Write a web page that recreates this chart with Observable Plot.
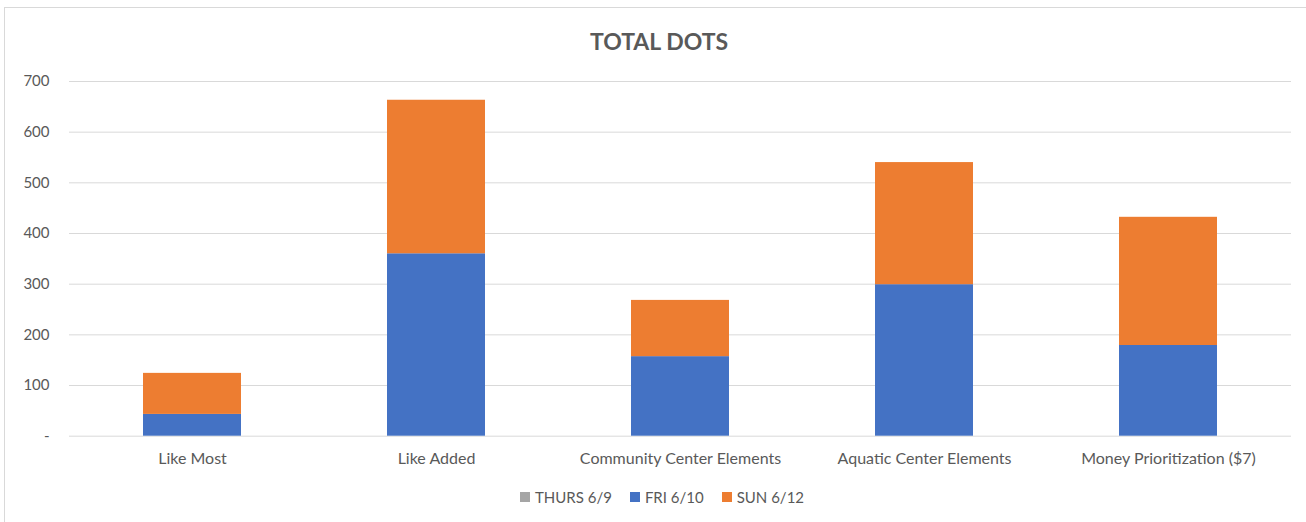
<!DOCTYPE html>
<html><head><meta charset="utf-8">
<script src="https://cdn.jsdelivr.net/npm/d3@7"></script>
<script src="https://cdn.jsdelivr.net/npm/@observablehq/plot@0.6"></script>
<style>
body{margin:0;background:#fff;font-family:Lato, sans-serif;width:1306px;height:522px;overflow:hidden;position:relative;}
#frame{position:absolute;left:4px;top:7px;width:1310px;height:530px;border-top:1px solid #d9d9d9;border-left:1px solid #d9d9d9;box-sizing:border-box;}
#title{position:absolute;left:0;width:1318px;top:27px;text-align:center;font-weight:bold;font-size:23px;color:#595959;line-height:28px;}
#chart{position:absolute;left:0;top:65px;}
#legend{position:absolute;top:487px;left:0;width:1324px;display:flex;justify-content:center;font-size:15px;color:#595959;line-height:20px;}
.item{display:flex;align-items:center;margin:0 9px;}
.sw{width:10px;height:10px;margin-right:5px;}
</style>
</head><body>
<div id="frame"></div>
<div id="title">TOTAL DOTS</div>
<div id="chart"></div>
<div id="legend"></div>
<script>
const categories = ["Like Most","Like Added","Community Center Elements","Aquatic Center Elements","Money Prioritization ($7)"];
const series = ["THURS 6/9","FRI 6/10","SUN 6/12"];
const colors = ["#a5a5a5","#4472c4","#ed7d31"];
const thurs = [0,0,0,0,0];
const fri = [43,360,157,299,179];
const sun = [81,303,111,241,253];
const yTicks = [0,100,200,300,400,500,600,700];

const data = [];
categories.forEach((c,i)=>{
  data.push({category:c, series:series[0], value:thurs[i]});
  data.push({category:c, series:series[1], value:fri[i]});
  data.push({category:c, series:series[2], value:sun[i]});
});

const chart = Plot.plot({
  width:1306, height:410,
  marginLeft:69, marginRight:15, marginTop:16, marginBottom:39.3,
  style:{fontFamily:"Lato, sans-serif", fontSize:"15px", color:"#595959", background:"transparent"},
  x:{domain:categories, paddingInner:0.6, paddingOuter:0.3},
  y:{domain:[0,700]},
  color:{domain:series, range:colors},
  marks:[
    Plot.gridY(yTicks,{stroke:"#d9d9d9", strokeOpacity:1, strokeWidth:1}),
    Plot.barY(data,{x:"category", y:"value", fill:"series", order:series}),
    Plot.axisY({ticks:yTicks, tickSize:0, tickPadding:20, label:null, tickFormat:d=>d===0?"-":d3.format(",")(d), fill:"#595959"}),
    Plot.axisX({tickSize:0, tickPadding:16, label:null, fill:"#595959", fontSize:16})
  ]
});
document.getElementById("chart").appendChild(chart);

const lg = document.getElementById("legend");
series.forEach((s,i)=>{
  const it = document.createElement("div"); it.className="item";
  const sw = document.createElement("span"); sw.className="sw"; sw.style.background=colors[i];
  const tx = document.createElement("span"); tx.textContent=s;
  it.appendChild(sw); it.appendChild(tx); lg.appendChild(it);
});
</script>
</body></html>
